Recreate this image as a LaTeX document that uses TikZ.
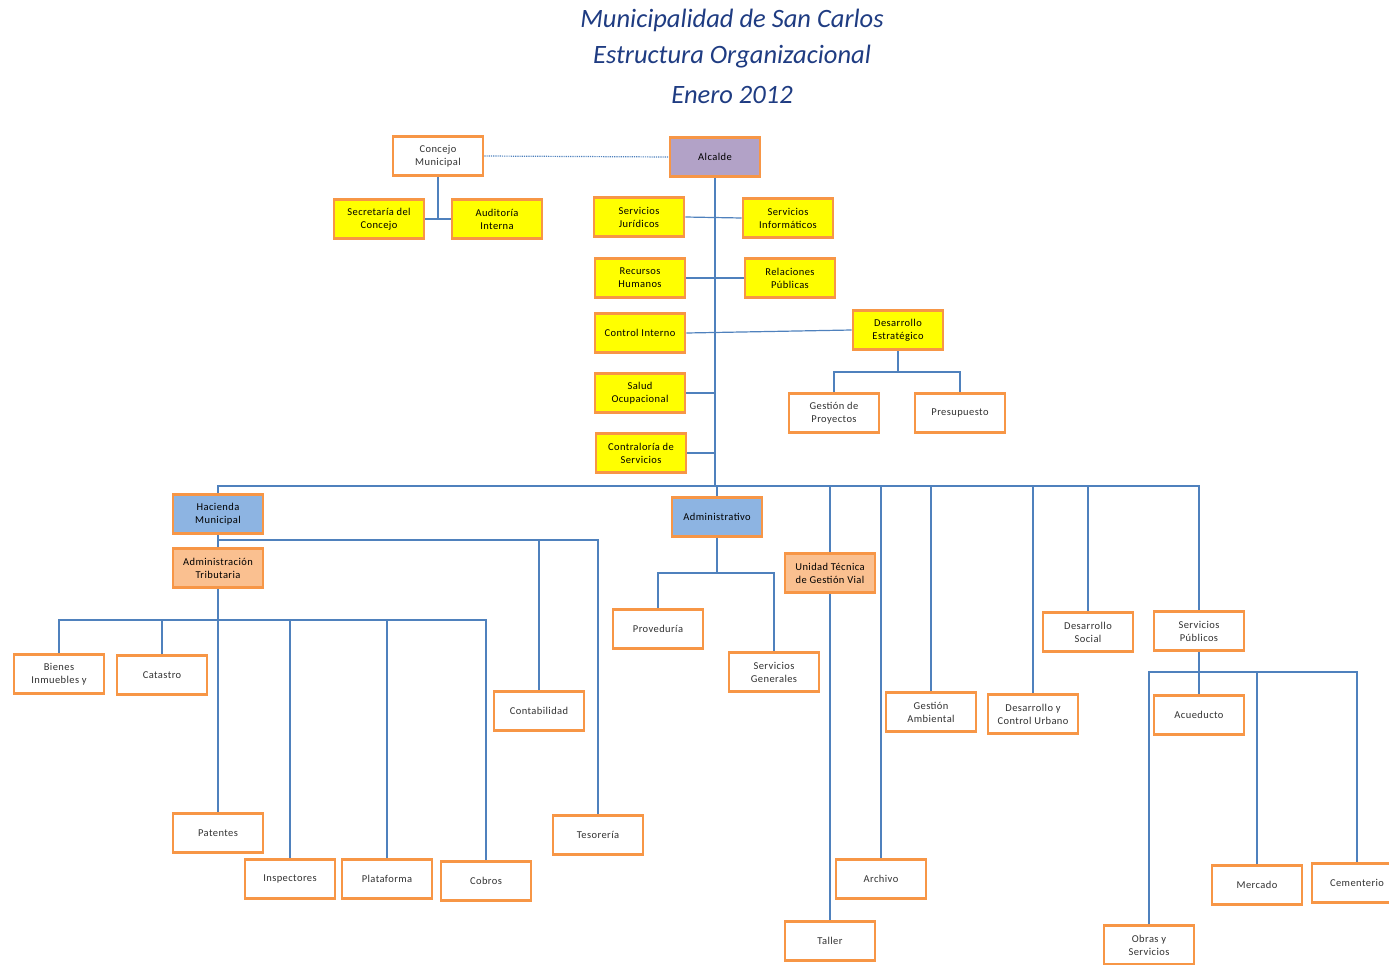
\documentclass[tikz,border=0pt]{standalone}
\usepackage{fontspec}
\setmainfont{Carlito}
\newfontfamily\boxfont[LetterSpace=4]{Carlito}
\definecolor{boxorange}{RGB}{247,150,70}
\definecolor{linkblue}{RGB}{79,129,189}
\definecolor{yel}{RGB}{255,255,0}
\definecolor{purp}{RGB}{178,162,199}
\definecolor{bluefill}{RGB}{141,180,226}
\definecolor{lorange}{RGB}{250,192,144}
\definecolor{titleblue}{RGB}{31,60,130}
\definecolor{txt}{RGB}{50,50,50}
\tikzset{
  unit/.style={draw=boxorange, line width=2.6pt, fill=white, minimum width=90pt, minimum height=39pt,
    inner sep=1pt, align=center, font=\boxfont\fontsize{10.5}{13}\selectfont, text=txt},
  ybox/.style={unit, fill=yel, text=black},
  pbox/.style={unit, fill=purp, text=black},
  bbox/.style={unit, fill=bluefill, text=black},
  obox/.style={unit, fill=lorange, text=black},
  conn/.style={draw=linkblue, line width=1.2pt},
  dotconn/.style={conn, densely dotted},
  titletext/.style={font=\fontsize{26.5}{30}\selectfont\itshape, text=titleblue}
}
\begin{document}
\begin{tikzpicture}[x=1pt,y=-1pt]
\useasboundingbox (0,0) rectangle (1389,964);
% title
\node[titletext] (t1) at (732,20) {Municipalidad de San Carlos};
\node[titletext] (t2) at (732,57) {Estructura Organizacional};
\node[titletext] (t3) at (732,95) {Enero 2012};
% boxes
\node[unit] (concejo) at (438,156) {Concejo\\Municipal};
\node[pbox] (alcalde) at (715,157) {Alcalde};
\node[ybox] (secretaria) at (379,219) {Secretaría del\\Concejo};
\node[ybox] (auditoria) at (497,219) {Auditoría\\Interna};
\node[ybox] (juridicos) at (639,217) {Servicios\\Jurídicos};
\node[ybox] (informaticos) at (788,218) {Servicios\\Informáticos};
\node[ybox] (rrhh) at (640,278) {Recursos\\Humanos};
\node[ybox] (rrpp) at (790,278) {Relaciones\\Públicas};
\node[ybox] (control) at (640,333) {Control Interno};
\node[ybox] (desest) at (898,330) {Desarrollo\\Estratégico};
\node[ybox] (salud) at (640,393) {Salud\\Ocupacional};
\node[ybox] (contraloria) at (641,453) {Contraloría de\\Servicios};
\node[unit] (gproy) at (834,413) {Gestión de\\Proyectos};
\node[unit] (presup) at (960,413) {Presupuesto};
\node[bbox] (hacienda) at (218,514) {Hacienda\\Municipal};
\node[bbox] (admin) at (717,517) {Administrativo};
\node[obox] (tributaria) at (218,568) {Administración\\Tributaria};
\node[obox] (unidad) at (830,573) {Unidad Técnica\\de Gestión Vial};
\node[unit] (proveduria) at (658,629) {Proveduría};
\node[unit] (servgen) at (774,672) {Servicios\\Generales};
\node[unit] (dsocial) at (1088,632) {Desarrollo\\Social};
\node[unit] (servpub) at (1199,631) {Servicios\\Públicos};
\node[unit] (bienes) at (59,674) {Bienes\\Inmuebles y};
\node[unit] (catastro) at (162,675) {Catastro};
\node[unit] (contab) at (539,711) {Contabilidad};
\node[unit] (gamb) at (931,712) {Gestión\\Ambiental};
\node[unit] (dcu) at (1033,714) {Desarrollo y\\Control Urbano};
\node[unit] (acueducto) at (1199,715) {Acueducto};
\node[unit] (patentes) at (218,833) {Patentes};
\node[unit] (tesoreria) at (598,835) {Tesorería};
\node[unit] (inspectores) at (290,879) {Inspectores};
\node[unit] (plataforma) at (387,879) {Plataforma};
\node[unit] (cobros) at (486,881) {Cobros};
\node[unit] (archivo) at (881,879) {Archivo};
\node[unit] (taller) at (830,941) {Taller};
\node[unit] (obras) at (1149,945) {Obras y\\Servicios};
\node[unit] (mercado) at (1257,885) {Mercado};
\node[unit] (cementerio) at (1357,883) {Cementerio};
% helper coordinates
\coordinate (bus) at (715,486);
\coordinate (de1) at (898,372);
\coordinate (h1) at (218,540);
\coordinate (tr1) at (218,620);
\coordinate (ad1) at (717,573);
\coordinate (sp1) at (1199,672);
% connectors
\draw[dotconn] (concejo.east) -- (alcalde.west);
\draw[conn] (concejo.south) -- (concejo.south |- secretaria.east);
\draw[conn] (secretaria.east) -- (auditoria.west);
\draw[conn] (alcalde.south) -- (bus);
\draw[conn] (juridicos.east) -- (informaticos.west);
\draw[conn] (rrhh.east) -- (rrpp.west);
\draw[conn] (control.east) -- (desest.west);
\draw[conn] (salud.east) -- (salud.east -| bus);
\draw[conn] (contraloria.east) -- (contraloria.east -| bus);
\draw[conn] (desest.south) -- (de1);
\draw[conn] (gproy.north) |- (de1) -| (presup.north);
\draw[conn] (hacienda.north) |- (servpub.north |- bus) -- (servpub.north);
\draw[conn] (admin.north) -- (admin.north |- bus);
\draw[conn] (unidad.north) -- (unidad.north |- bus);
\draw[conn] (archivo.north) -- (archivo.north |- bus);
\draw[conn] (gamb.north) -- (gamb.north |- bus);
\draw[conn] (dcu.north) -- (dcu.north |- bus);
\draw[conn] (dsocial.north) -- (dsocial.north |- bus);
\draw[conn] (hacienda.south) -- (tributaria.north);
\draw[conn] (h1) -| (tesoreria.north);
\draw[conn] (contab.north) -- (contab.north |- h1);
\draw[conn] (tributaria.south) -- (patentes.north);
\draw[conn] (bienes.north) |- (tr1);
\draw[conn] (tr1) -| (cobros.north);
\draw[conn] (catastro.north) -- (catastro.north |- tr1);
\draw[conn] (inspectores.north) -- (inspectores.north |- tr1);
\draw[conn] (plataforma.north) -- (plataforma.north |- tr1);
\draw[conn] (admin.south) -- (ad1);
\draw[conn] (proveduria.north) |- (ad1) -| (servgen.north);
\draw[conn] (unidad.south) -- (taller.north);
\draw[conn] (servpub.south) -- (acueducto.north);
\draw[conn] (obras.north) |- (sp1) -| (cementerio.north);
\draw[conn] (mercado.north) -- (mercado.north |- sp1);
\end{tikzpicture}
\end{document}
